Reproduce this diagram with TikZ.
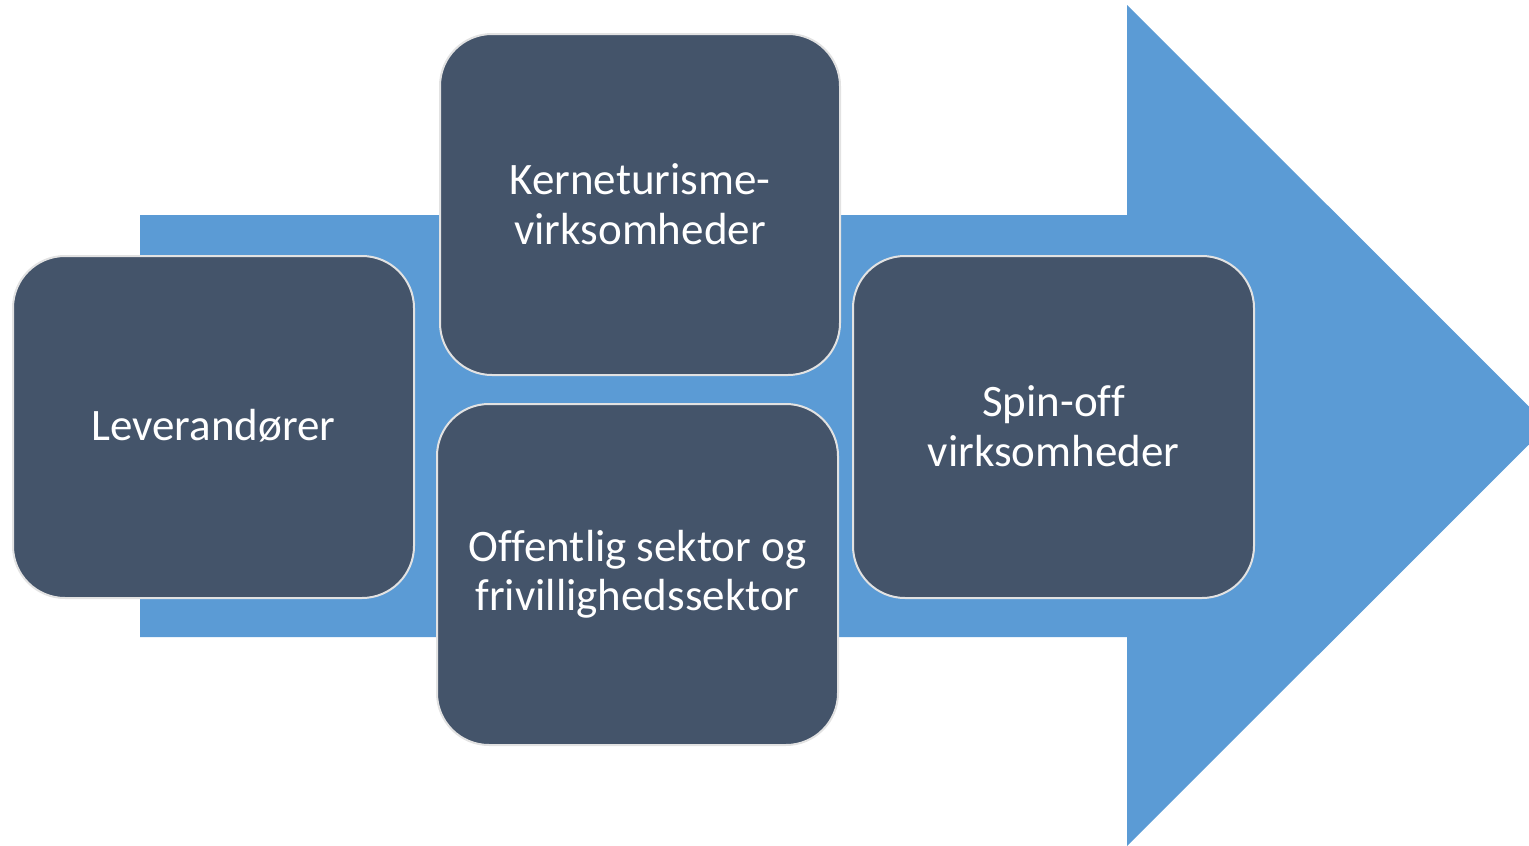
\documentclass[tikz,border=0pt]{standalone}
\usepackage{fontspec}
\setmainfont[Ligatures=NoCommon]{Carlito}
\definecolor{arrowblue}{HTML}{5B9BD5}
\definecolor{boxfill}{HTML}{44546A}
\definecolor{boxline}{HTML}{E2E2E2}
\tikzset{
  card/.style={draw=boxline, line width=2pt, fill=boxfill, rounded corners=52pt},
  lbl/.style={text=white, font=\fontsize{45}{49.5}\selectfont, align=center, inner sep=0pt}
}
\begin{document}
\begin{tikzpicture}[x=1pt,y=-1pt]
\useasboundingbox (0,0) rectangle (1529,846);
\begin{scope}
\clip (0,0) rectangle (1529,846);
\fill[arrowblue] (140,215) -- (1127,215) -- (1127,5) -- (1548,425.5) -- (1127,846) -- (1127,637) -- (140,637) -- cycle;
\end{scope}
\draw[card] (13,256) rectangle (414,598);
\draw[card] (440,34) rectangle (840,375);
\draw[card] (437,404) rectangle (838,745);
\draw[card] (853,256) rectangle (1254,598);
\node[lbl] (lev) at (213.5,426) {Leverandører};
\node[lbl] (ker) at (640,204) {Kerneturisme-\\virksomheder};
\node[lbl] (off) at (637.5,574) {Offentlig sektor og\\frivillighedssektor};
\node[lbl] (spin) at (1053.5,426) {Spin-off\\virksomheder};
\end{tikzpicture}
\end{document}
